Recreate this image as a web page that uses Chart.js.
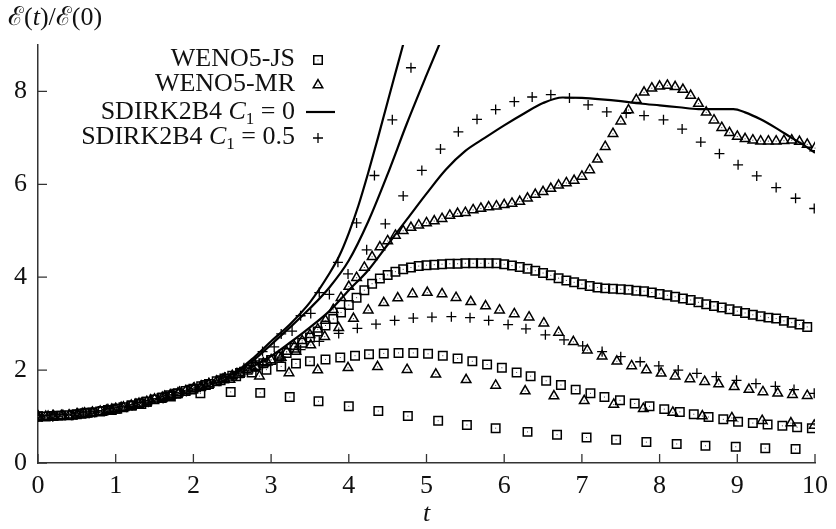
<!DOCTYPE html>
<html>
<head>
<meta charset="utf-8">
<script src="https://cdnjs.cloudflare.com/ajax/libs/Chart.js/4.4.1/chart.umd.min.js"></script>
<style>
  html, body { margin: 0; padding: 0; background: #fff; }
  #wrap { width: 836px; height: 529px; }
</style>
</head>
<body>
<div id="wrap"><canvas id="myChart"></canvas></div>
<script>
// tick values
const xTicks = [0, 1, 2, 3, 4, 5, 6, 7, 8, 9, 10];
const yTicks = [0, 2, 4, 6, 8];

// fine grid (WENO5-JS / WENO5-MR, finest mesh)
const tFine = [0.0, 0.1, 0.2, 0.3, 0.4, 0.5, 0.6, 0.7, 0.8, 0.9,
  1.0, 1.1, 1.2, 1.3, 1.4, 1.5, 1.6, 1.7, 1.8, 1.9,
  2.0, 2.1, 2.2, 2.3, 2.4, 2.5, 2.6, 2.7, 2.8, 2.9,
  3.0, 3.1, 3.2, 3.3, 3.4, 3.5, 3.6, 3.7, 3.8, 3.9,
  4.0, 4.1, 4.2, 4.3, 4.4, 4.5, 4.6, 4.7, 4.8, 4.9,
  5.0, 5.1, 5.2, 5.3, 5.4, 5.5, 5.6, 5.7, 5.8, 5.9,
  6.0, 6.1, 6.2, 6.3, 6.4, 6.5, 6.6, 6.7, 6.8, 6.9,
  7.0, 7.1, 7.2, 7.3, 7.4, 7.5, 7.6, 7.7, 7.8, 7.9,
  8.0, 8.1, 8.2, 8.3, 8.4, 8.5, 8.6, 8.7, 8.8, 8.9,
  9.0, 9.1, 9.2, 9.3, 9.4, 9.5, 9.6, 9.7, 9.8, 9.9, 10.0];

// WENO5-JS
const tJS1 = [0, 0.18, 0.56, 0.95, 1.33, 1.71, 2.09, 2.48, 2.86, 3.24, 3.61, 4.0, 4.38, 4.76, 5.15, 5.52, 5.89, 6.30, 6.68, 7.06, 7.44, 7.83, 8.22, 8.59, 8.98, 9.36, 9.75];
const eJS1 = [1.0, 1.01, 1.06, 1.14, 1.27, 1.43, 1.50, 1.53, 1.51, 1.42, 1.33, 1.22, 1.12, 1.01, 0.91, 0.82, 0.75, 0.67, 0.61, 0.55, 0.50, 0.45, 0.41, 0.37, 0.35, 0.32, 0.30];
const tJS2 = [0, 0.26, 0.45, 0.64, 0.83, 1.02, 1.21, 1.40, 1.59, 1.78, 1.97, 2.16, 2.35, 2.55, 2.75, 2.94, 3.13, 3.32, 3.50, 3.70, 3.89, 4.08, 4.26, 4.45, 4.64, 4.83, 5.02, 5.21, 5.40, 5.59, 5.78, 5.97, 6.16, 6.34, 6.54, 6.73, 6.92, 7.11, 7.29, 7.49, 7.68, 7.87, 8.06, 8.26, 8.44, 8.63, 8.82, 9.01, 9.20, 9.39, 9.58, 9.77, 9.96];
const eJS2 = [1.0, 1.02, 1.04, 1.08, 1.12, 1.17, 1.24, 1.32, 1.40, 1.49, 1.58, 1.68, 1.78, 1.87, 1.95, 2.01, 2.08, 2.14, 2.19, 2.23, 2.27, 2.31, 2.34, 2.36, 2.37, 2.37, 2.35, 2.31, 2.25, 2.19, 2.12, 2.05, 1.95, 1.87, 1.77, 1.68, 1.58, 1.50, 1.42, 1.35, 1.28, 1.22, 1.16, 1.10, 1.05, 0.99, 0.94, 0.89, 0.86, 0.83, 0.80, 0.77, 0.75];
const eJS3 = [1.00, 1.00, 1.01, 1.02, 1.03, 1.05, 1.07, 1.09, 1.11, 1.14,
  1.17, 1.20, 1.24, 1.28, 1.32, 1.37, 1.41, 1.46, 1.50, 1.55,
  1.60, 1.65, 1.70, 1.76, 1.82, 1.88, 1.94, 2.01, 2.08, 2.15,
  2.22, 2.29, 2.37, 2.48, 2.59, 2.70, 2.83, 2.96, 3.10, 3.24,
  3.40, 3.56, 3.72, 3.86, 3.97, 4.05, 4.12, 4.17, 4.21, 4.24,
  4.26, 4.27, 4.28, 4.29, 4.29, 4.30, 4.30, 4.30, 4.30, 4.30,
  4.28, 4.25, 4.22, 4.18, 4.14, 4.09, 4.04, 3.98, 3.93, 3.89,
  3.85, 3.81, 3.78, 3.76, 3.75, 3.74, 3.73, 3.71, 3.70, 3.67,
  3.64, 3.61, 3.58, 3.54, 3.51, 3.46, 3.42, 3.38, 3.35, 3.31,
  3.27, 3.23, 3.19, 3.16, 3.13, 3.11, 3.06, 3.02, 2.98, 2.93];

// WENO5-MR
const tMR1 = [0, 0.19, 0.57, 0.95, 1.33, 1.71, 2.09, 2.47, 2.85, 3.23, 3.60, 3.99, 4.37, 4.75, 5.12, 5.51, 5.89, 6.27, 6.64, 7.03, 7.41, 7.79, 8.17, 8.55, 8.93, 9.32, 9.69, 9.99];
const eMR1 = [1.0, 1.01, 1.06, 1.15, 1.28, 1.46, 1.63, 1.80, 1.87, 1.94, 2.00, 2.05, 2.07, 2.01, 1.91, 1.79, 1.67, 1.55, 1.44, 1.34, 1.26, 1.17, 1.09, 1.01, 0.97, 0.91, 0.86, 0.81];
const tMR2 = [0, 0.13, 0.32, 0.51, 0.70, 0.88, 1.07, 1.26, 1.45, 1.63, 1.82, 2.01, 2.20, 2.38, 2.57, 2.76, 2.95, 3.13, 3.32, 3.51, 3.69, 3.87, 4.06, 4.25, 4.45, 4.63, 4.82, 5.01, 5.20, 5.38, 5.57, 5.76, 5.94, 6.13, 6.32, 6.51, 6.70, 6.89, 7.07, 7.26, 7.45, 7.64, 7.83, 8.02, 8.20, 8.39, 8.58, 8.76, 8.96, 9.15, 9.33, 9.52, 9.71, 9.90];
const eMR2 = [1.0, 1.0, 1.02, 1.05, 1.08, 1.13, 1.19, 1.26, 1.35, 1.43, 1.52, 1.61, 1.70, 1.80, 1.90, 2.04, 2.17, 2.27, 2.40, 2.54, 2.72, 2.91, 3.11, 3.29, 3.45, 3.55, 3.64, 3.67, 3.64, 3.56, 3.47, 3.38, 3.29, 3.21, 3.14, 3.01, 2.81, 2.61, 2.43, 2.30, 2.19, 2.09, 2.00, 1.93, 1.87, 1.81, 1.75, 1.70, 1.64, 1.58, 1.53, 1.50, 1.47, 1.45];
const eMR3 = [1.00, 1.00, 1.01, 1.02, 1.03, 1.05, 1.07, 1.09, 1.11, 1.14,
  1.17, 1.20, 1.24, 1.28, 1.32, 1.37, 1.41, 1.46, 1.50, 1.55,
  1.60, 1.65, 1.70, 1.76, 1.82, 1.88, 1.94, 2.01, 2.08, 2.15,
  2.22, 2.30, 2.40, 2.51, 2.63, 2.76, 2.88, 3.07, 3.30, 3.56,
  3.80, 3.99, 4.21, 4.44, 4.65, 4.78, 4.90, 5.00, 5.07, 5.12,
  5.17, 5.21, 5.26, 5.33, 5.37, 5.39, 5.45, 5.48, 5.51, 5.53,
  5.56, 5.59, 5.63, 5.70, 5.78, 5.84, 5.91, 5.98, 6.03, 6.08,
  6.17, 6.31, 6.54, 6.81, 7.09, 7.36, 7.60, 7.82, 7.98, 8.07,
  8.11, 8.13, 8.10, 8.04, 7.91, 7.74, 7.55, 7.38, 7.22, 7.11,
  7.03, 6.98, 6.95, 6.93, 6.93, 6.93, 6.94, 6.95, 6.92, 6.86, 6.78];

// SDIRK2B4 C1 = 0 (solid lines)
const tL1 = [0, 0.5, 1.0, 1.5, 2.0, 2.25, 2.5, 2.75, 3.0, 3.25, 3.5, 3.75, 3.875, 4.0, 4.125, 4.25, 4.375, 4.5, 4.625, 4.75];
const eL1 = [1.0, 1.05, 1.17, 1.37, 1.60, 1.74, 1.91, 2.23, 2.62, 3.0, 3.46, 4.08, 4.45, 4.95, 5.55, 6.25, 7.0, 7.78, 8.55, 9.32];
const tL2 = [0, 0.5, 1.0, 1.5, 2.0, 2.25, 2.5, 2.75, 3.0, 3.25, 3.5, 3.75, 4.0, 4.25, 4.5, 4.75, 5.0, 5.25];
const eL2 = [1.0, 1.05, 1.17, 1.37, 1.60, 1.74, 1.89, 2.18, 2.55, 2.93, 3.33, 3.78, 4.36, 5.2, 6.22, 7.32, 8.35, 9.35];
const tL3 = [0, 0.5, 1.0, 1.5, 2.0, 2.5, 2.75, 3.0, 3.25, 3.5, 3.75, 4.0, 4.25, 4.5, 4.75, 5.0, 5.25, 5.5, 5.75, 6.0, 6.25, 6.5, 6.75, 7.0, 7.25, 7.5, 7.75, 8.0, 8.25, 8.5, 8.75, 8.95, 9.1, 9.3, 9.5, 9.7, 9.85, 10.0];
const eL3 = [1.0, 1.05, 1.17, 1.37, 1.59, 1.86, 2.06, 2.30, 2.60, 2.92, 3.27, 3.72, 4.15, 4.70, 5.25, 5.80, 6.32, 6.72, 7.00, 7.27, 7.52, 7.75, 7.87, 7.86, 7.83, 7.79, 7.74, 7.70, 7.66, 7.62, 7.62, 7.62, 7.55, 7.40, 7.21, 7.00, 6.85, 6.68];

// SDIRK2B4 C1 = 0.5 (plus markers)
const tP1 = [0, 0.19, 0.44, 0.68, 0.93, 1.17, 1.42, 1.66, 1.91, 2.15, 2.40, 2.64, 2.89, 3.13, 3.38, 3.62, 3.87, 4.11, 4.35, 4.59, 4.83, 5.07, 5.32, 5.56, 5.80, 6.05, 6.28, 6.53, 6.77, 7.01, 7.26, 7.50, 7.75, 7.99, 8.24, 8.48, 8.73, 8.99, 9.24, 9.49, 9.73, 9.99];
const eP1 = [1.0, 1.0, 1.03, 1.08, 1.14, 1.22, 1.31, 1.42, 1.54, 1.66, 1.80, 1.95, 2.12, 2.28, 2.44, 2.62, 2.79, 2.90, 2.99, 3.07, 3.12, 3.14, 3.15, 3.13, 3.07, 2.98, 2.89, 2.76, 2.65, 2.52, 2.40, 2.29, 2.18, 2.09, 2.00, 1.93, 1.86, 1.78, 1.71, 1.65, 1.58, 1.50];
const tP2 = [0, 0.19, 0.43, 0.66, 0.90, 1.14, 1.38, 1.61, 1.85, 2.09, 2.33, 2.56, 2.80, 3.04, 3.27, 3.51, 3.75, 3.99, 4.23, 4.47, 4.70, 4.94, 5.18, 5.41, 5.65, 5.89, 6.13, 6.36, 6.60, 6.84, 7.08, 7.32, 7.57, 7.80, 8.05, 8.29, 8.53, 8.77, 9.01, 9.25, 9.50, 9.75, 9.99];
const eP2 = [1.0, 1.0, 1.03, 1.07, 1.13, 1.20, 1.29, 1.39, 1.51, 1.63, 1.76, 1.95, 2.20, 2.50, 2.84, 3.22, 3.63, 4.07, 4.59, 5.15, 5.75, 6.30, 6.76, 7.13, 7.40, 7.61, 7.78, 7.88, 7.93, 7.86, 7.71, 7.56, 7.53, 7.48, 7.39, 7.19, 6.91, 6.66, 6.42, 6.18, 5.93, 5.70, 5.48];
const tP3 = [0, 0.25, 0.49, 0.73, 0.97, 1.21, 1.45, 1.69, 1.93, 2.17, 2.41, 2.65, 2.89, 3.13, 3.38, 3.62, 3.86, 4.10, 4.33, 4.56, 4.80];
const eP3 = [1.0, 1.01, 1.04, 1.09, 1.15, 1.23, 1.33, 1.44, 1.56, 1.69, 1.85, 2.05, 2.40, 2.78, 3.17, 3.67, 4.32, 5.17, 6.19, 7.39, 8.51];

const SERIF = '"Liberation Serif", "Times New Roman", serif';
const INK = '#000';

const pts = (t, e) => e.map((y, i) => ({ x: t[i], y: y }));

function markers(t, e, style, r) {
  return { data: pts(t, e), showLine: false, pointStyle: style, pointRadius: r, pointHoverRadius: r,
    pointBackgroundColor: 'rgba(255,255,255,0)', pointBorderColor: INK, pointBorderWidth: 1.5, dotted: true };
}
function pluses(t, e) {
  return { data: pts(t, e), showLine: false, pointStyle: 'cross', pointRadius: 5, pointHoverRadius: 5,
    pointBorderColor: INK, pointBorderWidth: 1.3 };
}
function curve(t, e) {
  return { data: pts(t, e), showLine: true, pointRadius: 0, borderColor: '#000', borderWidth: 2.2,
    cubicInterpolationMode: 'monotone', fill: false };
}

function runsWidth(ctx, runs) {
  let w = 0;
  runs.forEach(r => { ctx.font = r.font; w += ctx.measureText(r.text).width; });
  return w;
}
function drawRuns(ctx, runs, x, y) {
  runs.forEach(r => {
    ctx.font = r.font;
    ctx.fillText(r.text, x, y + (r.dy || 0));
    x += ctx.measureText(r.text).width;
  });
}

const fN = '26px ' + SERIF, fI = 'italic 26px ' + SERIF, fS = '17px ' + SERIF;
const fE = '26px "DejaVu Serif", serif';

function sq(ctx, x, y) {
  const h = 6 * Math.SQRT1_2;
  ctx.strokeRect(x - h, y - h, 2 * h, 2 * h);
  ctx.fillRect(x - 0.5, y - 0.5, 1, 1);
}
function tri(ctx, x, y) {
  const r = 5.5;
  ctx.beginPath();
  ctx.moveTo(x, y - r);
  ctx.lineTo(x + r * Math.sin(2 * Math.PI / 3), y + r * 0.5);
  ctx.lineTo(x - r * Math.sin(2 * Math.PI / 3), y + r * 0.5);
  ctx.closePath();
  ctx.stroke();
  ctx.fillRect(x - 0.5, y - 0.5, 1, 1);
}

const decor = {
  id: 'decor',
  afterDatasetsDraw(chart) {
    // little centre dots inside the open squares / triangles
    const ctx = chart.ctx;
    ctx.save();
    ctx.fillStyle = '#444';
    chart.data.datasets.forEach((ds, i) => {
      if (!ds.dotted) return;
      chart.getDatasetMeta(i).data.forEach(p => ctx.fillRect(p.x - 0.5, p.y - 0.5, 1, 1));
    });
    ctx.restore();
  },
  afterDraw(chart) {
    const ctx = chart.ctx, a = chart.chartArea;
    const xs = chart.scales.x, ys = chart.scales.y;
    ctx.save();
    // inward tick marks
    ctx.strokeStyle = '#333';
    ctx.lineWidth = 1.3;
    ctx.beginPath();
    xTicks.forEach(v => { const p = xs.getPixelForValue(v); ctx.moveTo(p, a.bottom); ctx.lineTo(p, a.bottom - 9); });
    yTicks.forEach(v => { const p = ys.getPixelForValue(v); ctx.moveTo(a.left, p); ctx.lineTo(a.left + 9, p); });
    ctx.stroke();

    ctx.fillStyle = '#111';
    ctx.textBaseline = 'alphabetic';
    // y title
    drawRuns(ctx, [{ text: '\u2130', font: fE }, { text: '(', font: fN }, { text: 't', font: fI },
      { text: ')/', font: fN }, { text: '\u2130', font: fE }, { text: '(0)', font: fN }], 8, 25);
    // x title
    ctx.font = fI;
    ctx.textAlign = 'center';
    ctx.fillText('t', (a.left + a.right) / 2, 521);
    ctx.textAlign = 'left';

    // legend
    const rows = [
      [{ text: 'WENO5-JS', font: fN }],
      [{ text: 'WENO5-MR', font: fN }],
      [{ text: 'SDIRK2B4 ', font: fN }, { text: 'C', font: fI }, { text: '1', font: fS, dy: 5 }, { text: ' = 0', font: fN }],
      [{ text: 'SDIRK2B4 ', font: fN }, { text: 'C', font: fI }, { text: '1', font: fS, dy: 5 }, { text: ' = 0.5', font: fN }]
    ];
    const base = [66, 91, 119, 144];
    const right = 295, mx = 318;
    rows.forEach((r, i) => drawRuns(ctx, r, right - runsWidth(ctx, r), base[i]));
    ctx.strokeStyle = INK;
    ctx.fillStyle = '#444';
    ctx.lineWidth = 1.5;
    sq(ctx, mx, base[0] - 6);
    tri(ctx, mx, base[1] - 6);
    ctx.strokeStyle = '#000';
    ctx.lineWidth = 2.2;
    ctx.beginPath();
    ctx.moveTo(306, base[2] - 7); ctx.lineTo(335, base[2] - 7);
    ctx.stroke();
    ctx.strokeStyle = INK;
    ctx.lineWidth = 1.3;
    ctx.beginPath();
    ctx.moveTo(mx - 5, base[3] - 6); ctx.lineTo(mx + 5, base[3] - 6);
    ctx.moveTo(mx, base[3] - 11); ctx.lineTo(mx, base[3] - 1);
    ctx.stroke();
    ctx.restore();
  }
};

const ctx = document.getElementById('myChart').getContext('2d');
const myChart = new Chart(ctx, {
  type: 'scatter',
  data: {
    datasets: [
      markers(tJS1, eJS1, 'rect', 6),
      markers(tJS2, eJS2, 'rect', 6),
      markers(tFine, eJS3, 'rect', 6),
      markers(tMR1, eMR1, 'triangle', 5.5),
      markers(tMR2, eMR2, 'triangle', 5.5),
      markers(tFine, eMR3, 'triangle', 5.5),
      curve(tL1, eL1),
      curve(tL2, eL2),
      curve(tL3, eL3),
      pluses(tP1, eP1),
      pluses(tP2, eP2),
      pluses(tP3, eP3)
    ]
  },
  options: {
    responsive: true,
    maintainAspectRatio: false,
    animation: false,
    layout: { padding: { top: 45, right: 13, bottom: 0, left: 0 } },
    plugins: { legend: { display: false }, tooltip: { enabled: false } },
    scales: {
      x: {
        type: 'linear', min: 0, max: 10,
        grid: { display: false, drawTicks: false },
        border: { display: true, color: '#333', width: 1.5 },
        ticks: { stepSize: 1, autoSkip: false, maxRotation: 0, padding: 8, color: '#111',
          font: { family: SERIF, size: 26 } },
        afterFit(s) { s.height = 66; }
      },
      y: {
        type: 'linear', min: 0, max: 9,
        grid: { display: false, drawTicks: false },
        border: { display: true, color: '#333', width: 1.5 },
        ticks: { stepSize: 2, padding: 11, color: '#111', font: { family: SERIF, size: 26 },
          callback: v => (yTicks.includes(v) ? v : '') },
        afterFit(s) { s.width = 38; }
      }
    }
  },
  plugins: [decor]
});
</script>
</body>
</html>
